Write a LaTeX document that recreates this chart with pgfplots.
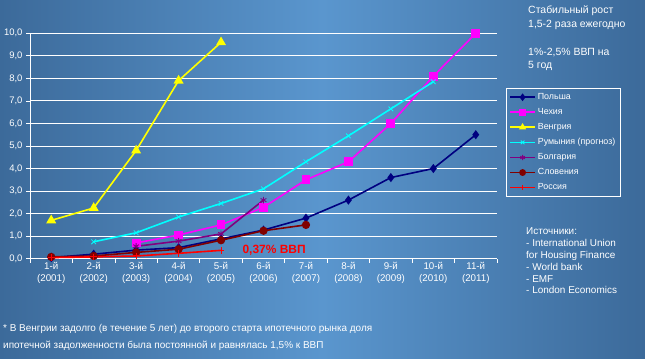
\documentclass[border=0pt]{standalone}
\usepackage{fontspec}
\setmainfont{Liberation Sans}
\usepackage{pgfplots}
\pgfplotsset{compat=1.18}
\definecolor{bgA}{RGB}{60,106,154}
\definecolor{bgB}{RGB}{90,150,206}
\definecolor{cNavy}{RGB}{0,0,128}
\definecolor{cMag}{RGB}{255,0,255}
\definecolor{cYel}{RGB}{255,255,0}
\definecolor{cCyan}{RGB}{0,255,255}
\definecolor{cPur}{RGB}{128,0,128}
\definecolor{cMar}{RGB}{128,0,0}
\definecolor{cRed}{RGB}{255,0,0}
\begin{document}
\begin{tikzpicture}
\useasboundingbox (0,0) rectangle (645bp,359bp);
\shade[left color=bgA, right color=bgA, middle color=bgB] (0,0) rectangle (645bp,359bp);
\begin{axis}[
  at={(30bp,100.3bp)}, anchor=south west,
  scale only axis, width=467bp, height=225.4bp,
  xmin=0.5, xmax=11.5, ymin=0, ymax=10,
  clip=false,
  axis lines*=left,
  axis line style={white, line width=0.8bp},
  tick style={white, line width=0.8bp},
  tick align=outside,
  major tick length=4bp,
  ytick={0,1,...,10},
  ymajorgrids,
  grid style={white, line width=0.9bp},
  yticklabel style={text=white, font=\fontsize{9.5}{11}\selectfont,
    /pgf/number format/.cd, fixed, fixed zerofill, precision=1, use comma, assume math mode=true},
  xtick={0.5,1.5,...,11.5},
  xticklabels={},
  extra x ticks={1,2,3,4,5,6,7,8,9,10,11},
  extra x tick labels={{1-й\\(2001)},{2-й\\(2002)},{3-й\\(2003)},{4-й\\(2004)},{5-й\\(2005)},{6-й\\(2006)},{7-й\\(2007)},{8-й\\(2008)},{9-й\\(2009)},{10-й\\(2010)},{11-й\\(2011)}},
  extra x tick style={major tick length=0pt, grid=none,
    tick label style={text=white, align=center, font=\fontsize{9.8}{12.5}\selectfont}},
  legend style={at={(1.019,0.757)}, anchor=north west, draw=white, line width=0.8bp, fill=none,
    text=white, font=\fontsize{8.9}{10}\selectfont, row sep=3.4bp, inner sep=3bp},
  legend cell align=left,
  legend image code/.code={\draw[#1, mark=none, line width=1.6bp] (0bp,0bp) -- (25bp,0bp);
     \draw[#1, mark size=2.6bp] plot coordinates {(12.5bp,0bp)};},
  every axis plot/.append style={line width=1.6bp, mark size=3.3bp},
]
\addplot[cNavy, mark=diamond*, mark options={solid}] coordinates {(1,0.05) (2,0.2) (3,0.38) (4,0.49) (5,0.88) (6,1.27) (7,1.8) (8,2.6) (9,3.6) (10,4.0) (11,5.5)};
\addlegendentry{Польша}
\addplot[cMag, mark=square*, mark size=3.6bp] coordinates {(3,0.7) (4,1.05) (5,1.5) (6,2.28) (7,3.5) (8,4.3) (9,6.0) (10,8.1) (11,10.0)};
\addlegendentry{Чехия}
\addplot[cYel, mark=triangle*, mark size=4.2bp] coordinates {(1,1.7) (2,2.25) (3,4.8) (4,7.9) (5,9.6)};
\addlegendentry{Венгрия}
\addplot[cCyan, mark=x, mark options={line width=0.8bp}] coordinates {(2,0.75) (3,1.15) (4,1.85) (5,2.45) (6,3.1) (7,4.3) (8,5.45) (9,6.65) (10,7.85)};
\addlegendentry{Румыния (прогноз)}
\addplot[cPur, mark=asterisk, mark options={line width=0.9bp}] coordinates {(3,0.55) (4,0.78) (5,1.1) (6,2.6)};
\addlegendentry{Болгария}
\addplot[cMar, mark=*] coordinates {(1,0.08) (2,0.12) (3,0.28) (4,0.42) (5,0.82) (6,1.24) (7,1.5)};
\addlegendentry{Словения}
\addplot[cRed, mark=+, mark options={line width=1bp}] coordinates {(1,0.05) (2,0.08) (3,0.12) (4,0.24) (5,0.37)};
\addlegendentry{Россия}
\node[text=cRed, font=\bfseries\fontsize{12}{13}\selectfont] at (axis cs:6.25,0.39) {0,37\% ВВП};
\end{axis}
\begin{scope}[every node/.style={text=white, anchor=base west, inner sep=0pt, font=\fontsize{10.5}{12}\selectfont}]
\node at (528bp,345bp) {Стабильный рост};
\node at (528bp,331bp) {1,5-2 раза ежегодно};
\node at (528bp,303bp) {1\%-2,5\% ВВП на};
\node at (528bp,290bp) {5 год};
\end{scope}
\begin{scope}[every node/.style={text=white, anchor=base west, inner sep=0pt, font=\fontsize{10}{12}\selectfont}]
\node at (526bp,124bp) {Источники:};
\node at (526bp,112.2bp) {- International Union};
\node at (526bp,100.4bp) {for Housing Finance};
\node at (526bp,88.6bp) {- World bank};
\node at (526bp,76.8bp) {- EMF};
\node at (526bp,65bp) {- London Economics};
\node at (3bp,28bp) {* В Венгрии задолго (в течение 5 лет) до второго старта ипотечного рынка доля};
\node at (3bp,11bp) {ипотечной задолженности была постоянной и равнялась 1,5\% к ВВП};
\end{scope}
\end{tikzpicture}
\end{document}
